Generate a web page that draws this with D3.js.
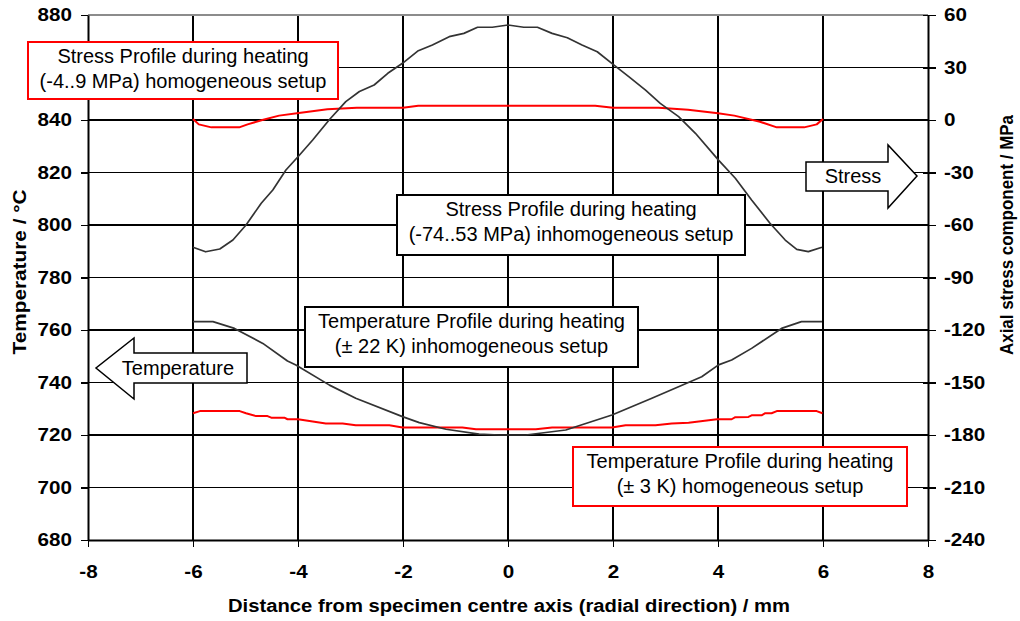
<!DOCTYPE html>
<html>
<head>
<meta charset="utf-8">
<script src="https://cdn.jsdelivr.net/npm/d3@7"></script>
<style>
    body { margin: 0; background: #fff; }
    svg text { font-family: Arial, "Liberation Sans", sans-serif; fill: #000; }
</style>
</head>
<body>
<div id="chart"></div>
<script>
const ctx = {
    W: 1020,
    H: 621,
    left: 88,
    right: 928,
    top: 15,
    bottom: 540,
    stretch: 1.18,   // tick labels in the original are wider than tall
};

// ---- data ----
const xTicks = [-8, -6, -4, -2, 0, 2, 4, 6, 8];
const tempTicks = [680, 700, 720, 740, 760, 780, 800, 820, 840, 860, 880];
const stressTicks = [-240, -210, -180, -150, -120, -90, -60, -30, 0, 30, 60];

// stress, inhomogeneous setup (right axis, MPa)
const stressInhomX = [-6.0, -5.76, -5.49, -5.24, -4.99, -4.70, -4.48, -4.23, -4.0, -3.72, -3.40, -3.09, -2.83, -2.55, -2.29, -2.01, -1.72, -1.44, -1.12, -0.84, -0.58, -0.30, 0, 0.30, 0.56, 0.84, 1.13, 1.41, 1.70, 2.02, 2.30, 2.62, 2.90, 3.25, 3.57, 4.01, 4.33, 4.64, 4.99, 5.28, 5.50, 5.72, 5.98];
const stressInhomY = [-72.7, -75.3, -73.7, -68.6, -60, -47.6, -40, -28.6, -21, -11.4, 0.3, 10.5, 16.3, 20, 26.7, 32.4, 39.4, 42.9, 47.6, 49.5, 53, 53, 54.3, 53, 53, 49.5, 47, 42.9, 39, 31.4, 24.8, 17.1, 9.5, 1.9, -7.6, -22.9, -33.3, -45.7, -59, -68.6, -73.9, -75.2, -72.7];

// stress, homogeneous setup (right axis, MPa)
const stressHomX = [-6.0, -5.89, -5.65, -5.12, -4.96, -4.68, -4.36, -4.02, -3.44, -2.88, -2.0, -1.71, 0, 1.66, 2.0, 2.87, 3.43, 4.0, 4.31, 4.8, 5.12, 5.64, 5.88, 6.0];
const stressHomY = [0.6, -2.5, -4.2, -4.2, -2.5, 0, 2.5, 3.8, 6.1, 7.0, 7.0, 8.2, 8.2, 8.2, 7.0, 7.0, 5.9, 3.8, 2.5, -1.0, -4.2, -4.2, -2.5, 0.6];

// temperature, inhomogeneous setup (left axis, °C)
const tempInhomX = [-6.0, -5.62, -5.21, -4.67, -4.20, -4.04, -3.40, -2.90, -2.01, -1.69, -1.18, -0.55, -0.17, 0.34, 1.10, 1.98, 2.74, 3.69, 4.01, 4.26, 4.64, 5.21, 5.59, 5.98];
const tempInhomY = [763.2, 763.2, 760.6, 754.9, 748.2, 746.7, 739, 734, 727, 724.7, 722.2, 720.3, 720, 720, 721.9, 727.6, 734, 742.2, 746.7, 748.6, 753, 760.6, 763.2, 763.2];

// temperature, homogeneous setup (left axis, °C)
const tempHomX = [-6.0, -5.87, -5.11, -4.99, -4.80, -4.58, -4.51, -4.26, -4.20, -4.0, -3.47, -3.15, -2.90, -2.26, -2.01, -0.87, -0.61, 0.53, 0.84, 1.98, 2.24, 2.81, 3.12, 3.44, 3.98, 4.26, 4.33, 4.58, 4.64, 4.83, 4.90, 5.02, 5.12, 5.88, 5.99];
const tempHomY = [728.3, 729.1, 729.1, 728.3, 727.2, 727.2, 726.6, 726.6, 726, 726, 724.4, 724.4, 723.7, 723.7, 722.9, 722.9, 722.2, 722.2, 722.9, 722.9, 723.7, 723.7, 724.4, 724.7, 726, 726, 726.8, 726.9, 727.5, 727.5, 728.3, 728.3, 729.1, 729.1, 728.3];

function createViz() {
    const svg = d3.select("#chart").append("svg")
        .attr("width", ctx.W)
        .attr("height", ctx.H);

    ctx.x = d3.scaleLinear().domain([-8, 8]).range([ctx.left, ctx.right]);
    ctx.yT = d3.scaleLinear().domain([680, 880]).range([ctx.bottom, ctx.top]);
    ctx.yS = d3.scaleLinear().domain([-240, 60]).range([ctx.bottom, ctx.top]);

    drawGrid(svg);
    drawCurves(svg);
    drawAxes(svg);
    drawNotes(svg);
}

function drawGrid(svg) {
    const g = svg.append("g").attr("shape-rendering", "crispEdges");
    // vertical grid
    g.selectAll(".vg")
        .data(xTicks.filter(d => d > -8 && d < 8))
        .enter().append("line")
        .attr("x1", d => ctx.x(d)).attr("x2", d => ctx.x(d))
        .attr("y1", ctx.top).attr("y2", ctx.bottom)
        .attr("stroke", "#000").attr("stroke-width", 1.6);
    // horizontal grid
    g.selectAll(".hg")
        .data(tempTicks.filter(d => d > 680 && d < 880))
        .enter().append("line")
        .attr("x1", ctx.left).attr("x2", ctx.right)
        .attr("y1", d => ctx.yT(d)).attr("y2", d => ctx.yT(d))
        .attr("stroke", "#000").attr("stroke-width", 1.6);
    // top border is grey in the original
    g.append("line")
        .attr("x1", ctx.left).attr("x2", ctx.right)
        .attr("y1", ctx.top).attr("y2", ctx.top)
        .attr("stroke", "#8c8c8c").attr("stroke-width", 2);
}

function drawCurves(svg) {
    const lineS = d3.line().x(d => ctx.x(d[0])).y(d => ctx.yS(d[1]));
    const lineT = d3.line().x(d => ctx.x(d[0])).y(d => ctx.yT(d[1]));

    const series = [
        { xs: stressHomX, ys: stressHomY, gen: lineS, color: "#ff0000", w: 2 },
        { xs: tempHomX, ys: tempHomY, gen: lineT, color: "#ff0000", w: 2 },
        { xs: stressInhomX, ys: stressInhomY, gen: lineS, color: "#333333", w: 1.7 },
        { xs: tempInhomX, ys: tempInhomY, gen: lineT, color: "#333333", w: 1.7 },
    ];

    series.forEach(s => {
        svg.append("path")
            .datum(d3.zip(s.xs, s.ys))
            .attr("d", s.gen)
            .attr("fill", "none")
            .attr("stroke", s.color)
            .attr("stroke-width", s.w)
            .attr("stroke-linejoin", "round");
    });
}

function drawAxes(svg) {
    const st = ctx.stretch;
    const plain = d => String(d);   // hyphen minus, like the original

    const left = svg.append("g")
        .attr("transform", `translate(${ctx.left},0)`)
        .call(d3.axisLeft(ctx.yT).tickValues(tempTicks).tickFormat(plain).tickSize(7).tickSizeOuter(0));
    left.selectAll("text")
        .attr("x", -16 / st)
        .attr("transform", `scale(${st},1)`);
    // the 860 label sits under the red note box in the original
    left.selectAll(".tick").filter(d => d === 860).select("text").remove();

    const right = svg.append("g")
        .attr("transform", `translate(${ctx.right},0)`)
        .call(d3.axisRight(ctx.yS).tickValues(stressTicks).tickFormat(plain).tickSize(8).tickSizeOuter(0));
    right.selectAll(".tick line").attr("x1", -5);
    right.selectAll("text")
        .attr("x", 16 / st)
        .attr("transform", `scale(${st},1)`);

    const bottom = svg.append("g")
        .attr("transform", `translate(0,${ctx.bottom})`)
        .call(d3.axisBottom(ctx.x).tickValues(xTicks).tickFormat(plain).tickSize(7).tickSizeOuter(0));
    bottom.selectAll("text")
        .attr("y", 38).attr("dy", 0)
        .attr("transform", `scale(${st},1)`);

    [left, right, bottom].forEach(a => {
        a.select(".domain").attr("stroke", "#000").attr("stroke-width", 2);
        a.selectAll(".tick line").attr("stroke", "#000").attr("stroke-width", 1.6)
            .attr("shape-rendering", "crispEdges");
        a.selectAll("text")
            .attr("font-size", 17.5)
            .attr("font-weight", "bold")
            .attr("font-family", "Arial, 'Liberation Sans', sans-serif")
            .attr("fill", "#000");
    });

    // axis titles
    svg.append("text")
        .attr("transform", "translate(26,272) rotate(-90)")
        .attr("text-anchor", "middle")
        .attr("font-size", 17.5)
        .attr("font-weight", "bold")
        .attr("textLength", 165)
        .attr("lengthAdjust", "spacingAndGlyphs")
        .text("Temperature / °C");

    svg.append("text")
        .attr("transform", "translate(1013,235) rotate(-90)")
        .attr("text-anchor", "middle")
        .attr("font-size", 17.5)
        .attr("font-weight", "bold")
        .attr("textLength", 240)
        .attr("lengthAdjust", "spacingAndGlyphs")
        .text("Axial stress component / MPa");

    svg.append("text")
        .attr("x", 509)
        .attr("y", 612)
        .attr("text-anchor", "middle")
        .attr("font-size", 17.5)
        .attr("font-weight", "bold")
        .attr("textLength", 562)
        .attr("lengthAdjust", "spacingAndGlyphs")
        .text("Distance from specimen centre axis (radial direction) / mm");
}

function drawNotes(svg) {
    // labelled boxes: [x0, y0, x1, y1], border colour, two lines of text
    const boxes = [
        { r: [28, 42, 338, 99], c: "#ff0000", lines: ["Stress Profile during heating", "(-4..9 MPa) homogeneous setup"] },
        { r: [397, 195, 745, 255], c: "#000", lines: ["Stress Profile during heating", "(-74..53 MPa) inhomogeneous setup"] },
        { r: [305, 307, 638, 367], c: "#000", lines: ["Temperature Profile during heating", "(± 22 K) inhomogeneous setup"] },
        { r: [573, 447, 907, 506], c: "#ff0000", lines: ["Temperature Profile during heating", "(± 3 K) homogeneous setup"] },
    ];

    boxes.forEach(b => {
        const [x0, y0, x1, y1] = b.r;
        svg.append("rect")
            .attr("x", x0).attr("y", y0)
            .attr("width", x1 - x0).attr("height", y1 - y0)
            .attr("fill", "#fff")
            .attr("stroke", b.c)
            .attr("stroke-width", 2);
        b.lines.forEach((t, i) => {
            svg.append("text")
                .attr("x", (x0 + x1) / 2)
                .attr("y", y0 + 21 + i * 25)
                .attr("text-anchor", "middle")
                .attr("font-size", 20)
                .text(t);
        });
    });

    // block arrows
    const stressArrow = [[806, 162], [888, 162], [888, 145], [917, 176], [888, 208], [888, 191], [806, 191]];
    const tempArrow = [[247, 353], [134, 353], [134, 338], [96, 368], [134, 399], [134, 383], [247, 383]];

    [stressArrow, tempArrow].forEach(p => {
        svg.append("polygon")
            .attr("points", p.map(q => q.join(",")).join(" "))
            .attr("fill", "#fff")
            .attr("stroke", "#000")
            .attr("stroke-width", 1.5);
    });

    svg.append("text")
        .attr("x", 853).attr("y", 183)
        .attr("text-anchor", "middle")
        .attr("font-size", 20)
        .text("Stress");

    svg.append("text")
        .attr("x", 178).attr("y", 375)
        .attr("text-anchor", "middle")
        .attr("font-size", 20)
        .text("Temperature");
}

createViz();
</script>
</body>
</html>
